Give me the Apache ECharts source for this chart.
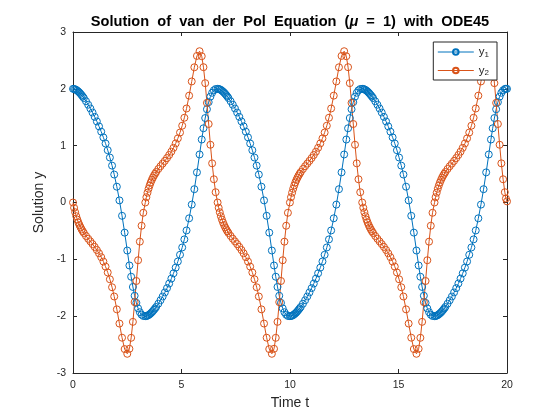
<!DOCTYPE html>
<html>
<head>
<meta charset="utf-8">
<script src="https://cdn.jsdelivr.net/npm/echarts@6/dist/echarts.min.js"></script>
<style>
  html, body { margin: 0; padding: 0; background: #fff; }
  #main { width: 560px; height: 420px; }
</style>
</head>
<body>
<div id="main"></div>
<script>
// time points of the ode45 output (one row per half cycle)
var tVals = [
  0, 0.05, 0.1, 0.15, 0.2, 0.25, 0.3, 0.35, 0.4, 0.45, 0.5, 0.6, 0.7, 0.8, 0.9, 1.0, 1.1, 1.2, 1.3, 1.4, 1.5, 1.6, 1.7, 1.8, 1.9, 2.02, 2.14, 2.26, 2.38, 2.5, 2.6, 2.68, 2.76, 2.84, 2.92, 3.0, 3.08, 3.16, 3.24,
  3.332, 3.382, 3.432, 3.482, 3.532, 3.582, 3.632, 3.682, 3.732, 3.782, 3.832, 3.932, 4.032, 4.132, 4.232, 4.332, 4.432, 4.532, 4.632, 4.732, 4.832, 4.932, 5.032, 5.132, 5.232, 5.352, 5.472, 5.592, 5.712, 5.832, 5.932, 6.012, 6.092, 6.172, 6.252, 6.332, 6.412, 6.492, 6.572,
  6.664, 6.714, 6.764, 6.814, 6.864, 6.914, 6.964, 7.014, 7.064, 7.114, 7.164, 7.264, 7.364, 7.464, 7.564, 7.664, 7.764, 7.864, 7.964, 8.064, 8.164, 8.264, 8.364, 8.464, 8.564, 8.684, 8.804, 8.924, 9.044, 9.164, 9.264, 9.344, 9.424, 9.504, 9.584, 9.664, 9.744, 9.824, 9.904,
  9.996, 10.046, 10.096, 10.146, 10.196, 10.246, 10.296, 10.346, 10.396, 10.446, 10.496, 10.596, 10.696, 10.796, 10.896, 10.996, 11.096, 11.196, 11.296, 11.396, 11.496, 11.596, 11.696, 11.796, 11.896, 12.016, 12.136, 12.256, 12.376, 12.496, 12.596, 12.676, 12.756, 12.836, 12.916, 12.996, 13.076, 13.156, 13.236,
  13.328, 13.378, 13.428, 13.478, 13.528, 13.578, 13.628, 13.678, 13.728, 13.778, 13.828, 13.928, 14.028, 14.128, 14.228, 14.328, 14.428, 14.528, 14.628, 14.728, 14.828, 14.928, 15.028, 15.128, 15.228, 15.348, 15.468, 15.588, 15.708, 15.828, 15.928, 16.008, 16.088, 16.168, 16.248, 16.328, 16.408, 16.488, 16.568,
  16.66, 16.71, 16.76, 16.81, 16.86, 16.91, 16.96, 17.01, 17.06, 17.11, 17.16, 17.26, 17.36, 17.46, 17.56, 17.66, 17.76, 17.86, 17.96, 18.06, 18.16, 18.26, 18.36, 18.46, 18.56, 18.68, 18.8, 18.92, 19.04, 19.16, 19.26, 19.34, 19.42, 19.5, 19.58, 19.66, 19.74, 19.82, 19.9,
  19.95, 20
];

var y1Vals = [
  2.000, 1.998, 1.991, 1.981, 1.967, 1.951, 1.932, 1.911, 1.888, 1.864, 1.838, 1.781, 1.720, 1.654, 1.583, 1.507, 1.426, 1.339, 1.246, 1.146, 1.038, 0.920, 0.791, 0.649, 0.492, 0.278, 0.037, -0.234, -0.530, -0.845, -1.108, -1.306, -1.486, -1.641, -1.766, -1.863, -1.930, -1.974, -1.997,
  -2.000, -1.998, -1.991, -1.981, -1.967, -1.951, -1.932, -1.911, -1.888, -1.864, -1.838, -1.781, -1.720, -1.654, -1.583, -1.507, -1.426, -1.339, -1.246, -1.146, -1.038, -0.920, -0.791, -0.649, -0.492, -0.278, -0.037, 0.234, 0.530, 0.845, 1.108, 1.306, 1.486, 1.641, 1.766, 1.863, 1.930, 1.974, 1.997,
  2.000, 1.998, 1.991, 1.981, 1.967, 1.951, 1.932, 1.911, 1.888, 1.864, 1.838, 1.781, 1.720, 1.654, 1.583, 1.507, 1.426, 1.339, 1.246, 1.146, 1.038, 0.920, 0.791, 0.649, 0.492, 0.278, 0.037, -0.234, -0.530, -0.845, -1.108, -1.306, -1.486, -1.641, -1.766, -1.863, -1.930, -1.974, -1.997,
  -2.000, -1.998, -1.991, -1.981, -1.967, -1.951, -1.932, -1.911, -1.888, -1.864, -1.838, -1.781, -1.720, -1.654, -1.583, -1.507, -1.426, -1.339, -1.246, -1.146, -1.038, -0.920, -0.791, -0.649, -0.492, -0.278, -0.037, 0.234, 0.530, 0.845, 1.108, 1.306, 1.486, 1.641, 1.766, 1.863, 1.930, 1.974, 1.997,
  2.000, 1.998, 1.991, 1.981, 1.967, 1.951, 1.932, 1.911, 1.888, 1.864, 1.838, 1.781, 1.720, 1.654, 1.583, 1.507, 1.426, 1.339, 1.246, 1.146, 1.038, 0.920, 0.791, 0.649, 0.492, 0.278, 0.037, -0.234, -0.530, -0.845, -1.108, -1.306, -1.486, -1.641, -1.766, -1.863, -1.930, -1.974, -1.997,
  -2.000, -1.998, -1.991, -1.981, -1.967, -1.951, -1.932, -1.911, -1.888, -1.864, -1.838, -1.781, -1.720, -1.654, -1.583, -1.507, -1.426, -1.339, -1.246, -1.146, -1.038, -0.920, -0.791, -0.649, -0.492, -0.278, -0.037, 0.234, 0.530, 0.845, 1.108, 1.306, 1.486, 1.641, 1.766, 1.863, 1.930, 1.974, 1.997,
  2.002, 2.000
];

var y2Vals = [
  0.000, -0.093, -0.172, -0.241, -0.301, -0.353, -0.398, -0.438, -0.474, -0.506, -0.536, -0.589, -0.638, -0.685, -0.732, -0.782, -0.836, -0.895, -0.962, -1.039, -1.128, -1.231, -1.351, -1.491, -1.654, -1.880, -2.130, -2.379, -2.579, -2.662, -2.574, -2.381, -2.100, -1.753, -1.381, -1.016, -0.689, -0.409, -0.181,
  0.000, 0.093, 0.172, 0.241, 0.301, 0.353, 0.398, 0.438, 0.474, 0.506, 0.536, 0.589, 0.638, 0.685, 0.732, 0.782, 0.836, 0.895, 0.962, 1.039, 1.128, 1.231, 1.351, 1.491, 1.654, 1.880, 2.130, 2.379, 2.579, 2.662, 2.574, 2.381, 2.100, 1.753, 1.381, 1.016, 0.689, 0.409, 0.181,
  0.000, -0.093, -0.172, -0.241, -0.301, -0.353, -0.398, -0.438, -0.474, -0.506, -0.536, -0.589, -0.638, -0.685, -0.732, -0.782, -0.836, -0.895, -0.962, -1.039, -1.128, -1.231, -1.351, -1.491, -1.654, -1.880, -2.130, -2.379, -2.579, -2.662, -2.574, -2.381, -2.100, -1.753, -1.381, -1.016, -0.689, -0.409, -0.181,
  0.000, 0.093, 0.172, 0.241, 0.301, 0.353, 0.398, 0.438, 0.474, 0.506, 0.536, 0.589, 0.638, 0.685, 0.732, 0.782, 0.836, 0.895, 0.962, 1.039, 1.128, 1.231, 1.351, 1.491, 1.654, 1.880, 2.130, 2.379, 2.579, 2.662, 2.574, 2.381, 2.100, 1.753, 1.381, 1.016, 0.689, 0.409, 0.181,
  0.000, -0.093, -0.172, -0.241, -0.301, -0.353, -0.398, -0.438, -0.474, -0.506, -0.536, -0.589, -0.638, -0.685, -0.732, -0.782, -0.836, -0.895, -0.962, -1.039, -1.128, -1.231, -1.351, -1.491, -1.654, -1.880, -2.130, -2.379, -2.579, -2.662, -2.574, -2.381, -2.100, -1.753, -1.381, -1.016, -0.689, -0.409, -0.181,
  0.000, 0.093, 0.172, 0.241, 0.301, 0.353, 0.398, 0.438, 0.474, 0.506, 0.536, 0.589, 0.638, 0.685, 0.732, 0.782, 0.836, 0.895, 0.962, 1.039, 1.128, 1.231, 1.351, 1.491, 1.654, 1.880, 2.130, 2.379, 2.579, 2.662, 2.574, 2.381, 2.100, 1.753, 1.381, 1.016, 0.689, 0.409, 0.181,
  0.070, 0.020
];

var seriesNames = ['y1', 'y2'];
var seriesColors = ['#0072BD', '#D95319'];

var FONT = 'Liberation Sans';
var AXIS_COLOR = '#262626';

function pairs(ys) {
  return tVals.map(function (t, i) { return [t, ys[i]]; });
}

function makeSeries(name, color, ys) {
  return {
    name: name,
    type: 'line',
    data: pairs(ys),
    symbol: 'circle',
    symbolSize: 7,
    showAllSymbol: true,
    animation: false,
    lineStyle: { color: color, width: 1 },
    itemStyle: { color: 'rgba(255,255,255,0)', borderColor: color, borderWidth: 1 },
    emphasis: { disabled: true }
  };
}

var chart = echarts.init(document.getElementById('main'), null, { renderer: 'canvas' });

var option = {
  backgroundColor: '#ffffff',
  animation: false,
  title: {
    text: 'Solution  of  van  der  Pol  Equation  ({i|\u03bc}  =  1)  with  ODE45',
    left: 285,
    top: 9,
    textAlign: 'center',
    textStyle: {
      fontFamily: FONT,
      fontSize: 14.6,
      fontWeight: 'bold',
      color: '#000',
      rich: {
        i: { fontFamily: FONT, fontSize: 14.6, fontWeight: 'bold', fontStyle: 'italic', color: '#000' }
      }
    }
  },
  legend: {
    data: seriesNames,
    right: 63,
    top: 42,
    orient: 'vertical',
    itemWidth: 36,
    itemHeight: 7,
    itemGap: 6,
    padding: [4, 8, 3, 4],
    borderColor: AXIS_COLOR,
    borderWidth: 1,
    backgroundColor: '#fff',
    lineStyle: { width: 1, color: 'inherit' },
    formatter: function (name) {
      return 'y{s|' + name.slice(1) + '}';
    },
    textStyle: {
      fontFamily: FONT,
      fontSize: 11.5,
      color: AXIS_COLOR,
      rich: {
        s: { fontFamily: FONT, fontSize: 8, color: AXIS_COLOR, verticalAlign: 'bottom', padding: [5, 0, 0, 0] }
      }
    }
  },
  grid: { left: 73, right: 53, top: 32, bottom: 47, containLabel: false },
  xAxis: [
    {
      type: 'value', min: 0, max: 20, interval: 5,
      name: 'Time t', nameLocation: 'middle', nameGap: 23,
      nameTextStyle: { fontFamily: FONT, fontSize: 14, color: AXIS_COLOR },
      axisLine: { onZero: false, lineStyle: { color: AXIS_COLOR, width: 1 } },
      axisTick: { inside: true, length: 4, lineStyle: { color: AXIS_COLOR } },
      axisLabel: { fontFamily: FONT, fontSize: 10.5, color: AXIS_COLOR, margin: 7 },
      splitLine: { show: false }
    },
    {
      type: 'value', min: 0, max: 20, interval: 5, position: 'top',
      axisLine: { onZero: false, lineStyle: { color: AXIS_COLOR, width: 1 } },
      axisTick: { inside: true, length: 4, lineStyle: { color: AXIS_COLOR } },
      axisLabel: { show: false },
      splitLine: { show: false }
    }
  ],
  yAxis: [
    {
      type: 'value', min: -3, max: 3, interval: 1,
      name: 'Solution y', nameLocation: 'middle', nameGap: 22,
      nameTextStyle: { fontFamily: FONT, fontSize: 14, color: AXIS_COLOR },
      axisLine: { onZero: false, lineStyle: { color: AXIS_COLOR, width: 1 } },
      axisTick: { inside: true, length: 4, lineStyle: { color: AXIS_COLOR } },
      axisLabel: { fontFamily: FONT, fontSize: 10.5, color: AXIS_COLOR, margin: 7 },
      splitLine: { show: false }
    },
    {
      type: 'value', min: -3, max: 3, interval: 1, position: 'right',
      axisLine: { onZero: false, lineStyle: { color: AXIS_COLOR, width: 1 } },
      axisTick: { inside: true, length: 4, lineStyle: { color: AXIS_COLOR } },
      axisLabel: { show: false },
      splitLine: { show: false }
    }
  ],
  series: [
    makeSeries(seriesNames[0], seriesColors[0], y1Vals),
    makeSeries(seriesNames[1], seriesColors[1], y2Vals)
  ]
};

chart.setOption(option);
</script>
</body>
</html>
